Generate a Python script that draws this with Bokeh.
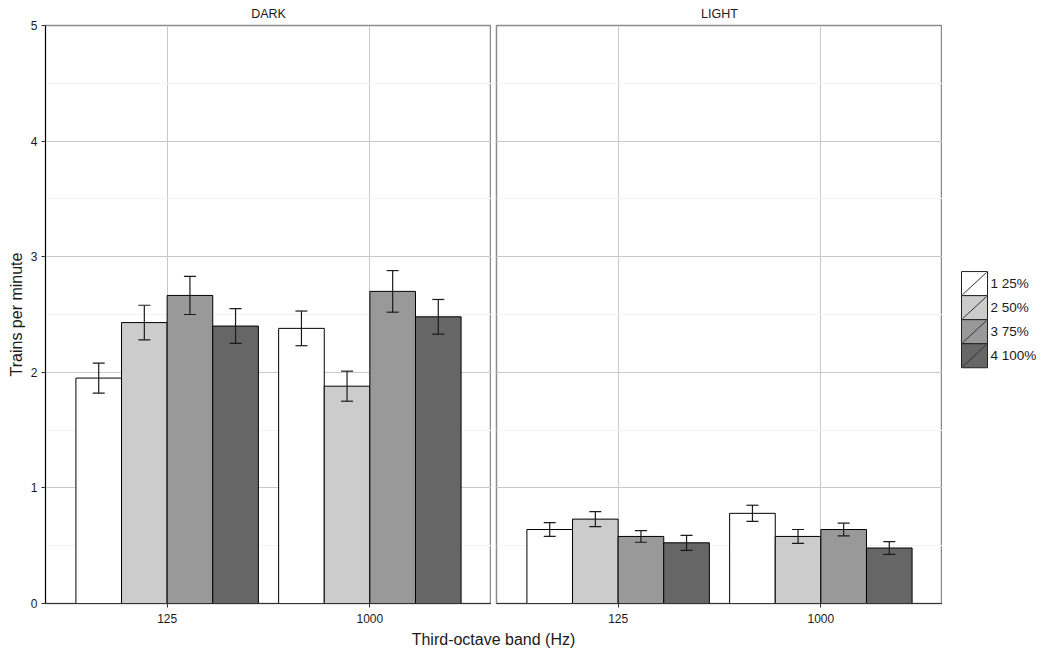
from bokeh.plotting import figure
from bokeh.layouts import row, column
from bokeh.models import (ColumnDataSource, Range1d, FactorRange, Whisker, TeeHead,
                          SingleIntervalTicker, Label)
from bokeh.core.properties import value
from bokeh.transform import dodge
from bokeh.embed import file_html
from bokeh.resources import INLINE

bands = ["125", "1000"]
series = ["1 25%", "2 50%", "3 75%", "4 100%"]
colors = ["#FFFFFF", "#CCCCCC", "#999999", "#666666"]

dark_means = {
    "1 25%": [1.95, 2.38],
    "2 50%": [2.43, 1.88],
    "3 75%": [2.665, 2.70],
    "4 100%": [2.40, 2.48],
}
dark_err = {
    "1 25%": [0.13, 0.15],
    "2 50%": [0.15, 0.13],
    "3 75%": [0.165, 0.18],
    "4 100%": [0.15, 0.15],
}
light_means = {
    "1 25%": [0.64, 0.78],
    "2 50%": [0.73, 0.58],
    "3 75%": [0.58, 0.64],
    "4 100%": [0.525, 0.48],
}
light_err = {
    "1 25%": [0.06, 0.07],
    "2 50%": [0.065, 0.06],
    "3 75%": [0.05, 0.055],
    "4 100%": [0.065, 0.055],
}
panels = ["DARK", "LIGHT"]
y_max = 5
x_title = "Third-octave band (Hz)"
y_title = "Trains per minute"

FONT = "Liberation Sans"
BAR_W = 0.225
offsets = [-1.5 * BAR_W, -0.5 * BAR_W, 0.5 * BAR_W, 1.5 * BAR_W]
FRAME_H = 578
TOP = 25


def make_panel(title, means, errs, first):
    xr = FactorRange(*bands, range_padding=0.1, range_padding_units="absolute")
    p = figure(x_range=xr, y_range=Range1d(0, y_max), frame_width=446, frame_height=FRAME_H,
               output_backend="svg", toolbar_location=None, title=title,
               min_border_left=45 if first else 5, min_border_right=0,
               min_border_top=0, min_border_bottom=0, background_fill_color="white",
               border_fill_color="white")
    p.title.align = "center"
    p.title.text_font = FONT
    p.title.text_font_size = "12.5px"
    p.title.text_font_style = "normal"
    p.title.text_color = "#1A1A1A"
    p.title.standoff = 9
    p.title.offset = 0

    p.outline_line_color = "#8C8C8C"
    p.outline_line_width = 1.5

    p.xgrid.grid_line_color = "#C8C8C8"
    p.ygrid.grid_line_color = "#C8C8C8"
    p.ygrid.minor_grid_line_color = "#F3F3F3"
    p.yaxis.ticker = SingleIntervalTicker(interval=1, num_minor_ticks=2)

    for ax in (p.xaxis, p.yaxis):
        ax.major_label_text_font = FONT
        ax.major_label_text_font_size = "12px"
        ax.major_label_text_color = "#1A1A1A"
        ax.major_tick_out = 4
        ax.major_tick_in = 0
        ax.minor_tick_out = 0
        ax.minor_tick_in = 0
        ax.major_tick_line_color = "#333333"
        ax.axis_line_color = "#333333"
        ax.axis_label_text_font = FONT
        ax.axis_label_text_font_size = "16px"
        ax.axis_label_text_font_style = "normal"
        ax.axis_label_text_color = "#1A1A1A"
    p.xaxis.major_label_standoff = 6
    p.xaxis.group_text_font_size = "0px"
    p.yaxis.major_label_standoff = 4
    p.yaxis.axis_line_color = "#000000"
    if first:
        p.yaxis.axis_label = y_title
        p.yaxis.axis_label_standoff = 3
    else:
        p.yaxis.visible = False

    for i, s in enumerate(series):
        src = ColumnDataSource(dict(
            band=bands,
            top=means[s],
            upper=[m + e for m, e in zip(means[s], errs[s])],
            lower=[m - e for m, e in zip(means[s], errs[s])],
        ))
        p.vbar(x=dodge("band", offsets[i], range=xr), top="top", bottom=0,
               width=BAR_W, source=src, fill_color=colors[i],
               line_color="#000000", line_width=1)
        w = Whisker(base=dodge("band", offsets[i], range=xr), upper="upper", lower="lower",
                    source=src, line_color="#1A1A1A", line_width=1.2, level="overlay",
                    upper_head=TeeHead(size=12, line_color="#1A1A1A", line_width=1.2),
                    lower_head=TeeHead(size=12, line_color="#1A1A1A", line_width=1.2))
        p.add_layout(w)
    return p


left = make_panel(panels[0], dark_means, dark_err, True)
right = make_panel(panels[1], light_means, light_err, False)

# legend drawn as its own small figure (pixel-like coordinates, y downward)
ROW_H = 627
KEY = 26
key_top = 266
lg = figure(width=110, height=ROW_H, output_backend="svg", toolbar_location=None,
            x_range=Range1d(0, 110), y_range=Range1d(ROW_H, 0), min_border=0,
            outline_line_color=None, background_fill_color="white",
            border_fill_color="white")
lg.axis.visible = False
lg.grid.visible = False
kx = 19 + KEY / 2
ky = [key_top + KEY / 2 + KEY * i for i in range(len(series))]
lsrc = ColumnDataSource(dict(
    x=[kx] * len(series), y=ky, color=colors, label=series,
    x0=[kx - KEY / 2 + 1] * len(series), x1=[kx + KEY / 2 - 1] * len(series),
    y0=[c + KEY / 2 - 1 for c in ky], y1=[c - KEY / 2 + 1 for c in ky],
    tx=[kx + KEY / 2 + 3] * len(series),
))
lg.rect(x="x", y="y", width=KEY, height=KEY, source=lsrc, fill_color="color",
        line_color="#222222", line_width=1)
lg.segment(x0="x0", y0="y0", x1="x1", y1="y1", source=lsrc, line_color="#333333",
           line_width=1)
lg.text(x="tx", y="y", text="label", source=lsrc, text_font=value(FONT),
        text_font_size="13.5px", text_color="#1A1A1A", text_baseline="middle",
        text_align="left")

lab = figure(width=1000, height=28, output_backend="svg", toolbar_location=None,
             x_range=Range1d(0, 1), y_range=Range1d(0, 1), min_border=0,
             outline_line_color=None)
lab.axis.visible = False
lab.grid.visible = False
lab.add_layout(Label(x=493, y=16, x_units="screen", y_units="screen", text=x_title,
                     text_font=FONT, text_font_size="16px", text_color="#1A1A1A",
                     text_align="center", text_baseline="middle"))

layout = column(row(left, right, lg), lab, spacing=0)

with open("out.html", "w") as f:
    f.write(file_html(layout, INLINE))
